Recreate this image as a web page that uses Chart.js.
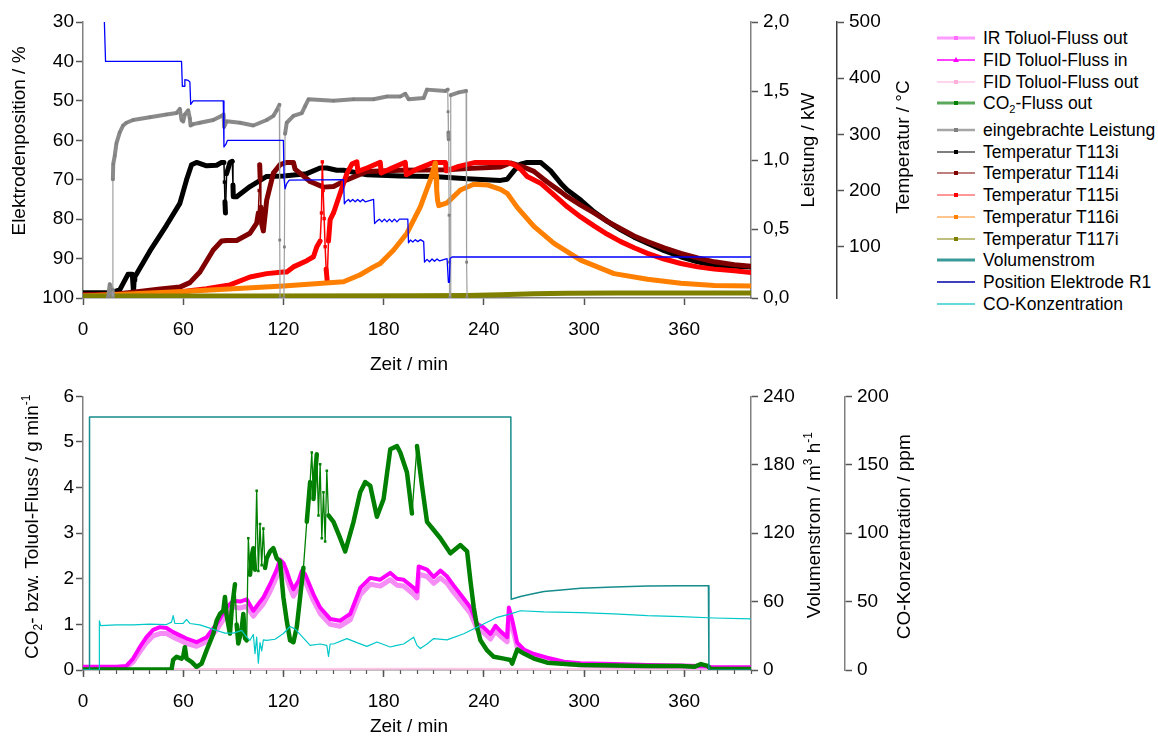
<!DOCTYPE html>
<html lang="de">
<head>
<meta charset="utf-8">
<title>Chart</title>
<script src="https://cdn.jsdelivr.net/npm/chart.js@4.4.1/dist/chart.umd.min.js"></script>
<style>
html,body{margin:0;padding:0;background:#fff;}
body{width:1158px;height:740px;position:relative;overflow:hidden;font-family:"Liberation Sans",Arial,Helvetica,sans-serif;}
canvas{position:absolute;left:0;}
#c1{top:0;}
#c2{top:380px;}
.lg{position:absolute;left:936px;height:20px;width:220px;line-height:20px;font-size:17.5px;color:#000;white-space:nowrap;}
.lg svg{position:absolute;left:0;top:5px;}
.lg span{position:absolute;left:47px;top:0;}
.lg sub{font-size:11px;vertical-align:-4px;line-height:0;}
</style>
</head>
<body>
<canvas id="c1" width="920" height="380"></canvas>
<canvas id="c2" width="920" height="360"></canvas>
<div id="legend"></div>
<script>
// ---------------- tick labels ----------------
const xTicks = [0, 60, 120, 180, 240, 300, 360];
const xMinorTicks = [0,10,20,30,40,50,60,70,80,90,100,110,120,130,140,150,160,170,180,190,200,210,220,230,240,250,260,270,280,290,300,310,320,330,340,350,360,370,380,390,400];
const ticksElektrode = [30, 40, 50, 60, 70, 80, 90, 100];
const ticksLeistung = [0, 0.5, 1.0, 1.5, 2.0];
const ticksTemp = [100, 200, 300, 400, 500];
const ticksFluss = [0, 1, 2, 3, 4, 5, 6];
const ticksVolumen = [0, 60, 120, 180, 240];
const ticksCO = [0, 50, 100, 150, 200];

// ---------------- top chart: temperatures (°C) ----------------
const tT113 = [0,17,22,27,29.5,30,30.2,30.6,31,40,50,58,62,65,68,74,80,83,84.4,84.7,85,85.3,86,88,89.4,89.8,90,92,100,110,120,134,142,146,152,156,170,190,210,230,250,254,258,262,266,274,280,286,290,298,306,314,322,330,338,348,358,368,378,390,400];
const vT113 = [18,18,23,51,51,30,17,40,46,92,138,177,219,246,250,244,245,250,250,215,180,160,230,250,252,210,189,189,207,225,226,230,240,240,236,236,228,226,225,221,218,220,235,247,250,250,235,213,201,183,162,145,130,117,106,93,82,73,67,65,64];

const tT114 = [0,17,30,45,58,64,70,78,83,86,92,100,104,105,105.5,105.8,106.1,106.5,107,108,110,114,118,122,126,127,136,144,150,158,170,190,218,230,250,256,262,270,278,286,290,298,306,314,322,330,338,348,358,368,378,390,400];
const vT114 = [15,15,19,24,28,36,55,94,110,111,111,124,142,160,200,246,220,170,140,128,183,231,246,250,250,238,216,206,207,219,234,236,237,239,242,249,244,234,215,198,189,174,160,145,132,119,109,98,88,80,73,68,65];

const tT115 = [0,40,60,74,84,88,100,110,120,122,126,134,138,140,142,142.8,143.3,143.8,144.4,145,145.6,146.2,147,148,150,154,158,161,164,164.6,170,178,178.6,185,193,193.6,200,210,217,217.6,225,235,254,258,262,266,274,282,290,298,306,314,322,330,338,348,358,368,378,390,400];
const vT115 = [13,15,20,25,30,32,46,52,55,55,64,75,82,100,110,160,251,200,150,100,60,40,110,148,160,195,230,247,251,234,240,250,231,240,250,228,238,250,250,235,243,250,250,246,238,225,213,192,171,153,137,122,109,98,88,78,70,64,60,57,54];

const tT116 = [0,60,120,156,166,174,178,186,194,202,208,211,211.4,211.8,212.3,213,218,226,234,242,250,254,260,270,282,298,318,338,358,378,400];
const vT116 = [12,20,30,37.5,50,64,70,94,124,171,219,249,225,200,183,173,178,201,211,210,202,195,170,136,106,76,52,42,35,31,30];

const tT117 = [0,100,200,230,250,270,290,320,360,400];
const vT117 = [12,12,12.5,13,14.5,16,17,17.5,17.5,17.5];

// eingebrachte Leistung (kW)
const tPow = [15,16,17.5,17.8,17.9,18.1,19,20,22,24,26,30,40,50,56,58,59,60,61,63,64,64.4,66,70,78,83,84.2,84.5,86,94,102,110,114,116,117.6,117.8,118,120.3,120.6,121,122,126,131,133,135,150,162,174,182,190,193,195,204,206,217,218.4,218.6,218.8,219,219.2,219.4,219.6,219.8,220.2,225,229.4,229.7,230];
const vPow = [0,0.1,0.06,0,0.86,0.97,1.03,1.12,1.2,1.25,1.27,1.29,1.31,1.33,1.34,1.37,1.29,1.28,1.33,1.36,1.30,1.25,1.26,1.27,1.29,1.32,1.33,1.24,1.28,1.27,1.25,1.29,1.32,1.36,1.40,0.42,0,0,0.37,1.19,1.27,1.32,1.34,1.39,1.44,1.43,1.44,1.44,1.46,1.46,1.48,1.44,1.45,1.51,1.50,1.51,1.35,1.2,1.15,0.6,0.26,0,0,1.47,1.49,1.50,0.26,0];

// Position Elektrode R1 (%)
const tPos = [12.8,13.5,59,59.5,60.5,61,63,64,64.5,66,84,84.4,85.6,86.5,120,120.4,121,122,123.5,156,156.5,157.5,159,160,161.5,163,164.5,166,167.5,169,174,174.6,176,177.5,179,180.5,182,183.5,185,186.5,188,189.5,194.5,194.9,196,197.5,199,200.5,202,204,204.5,206,207.5,209,210.5,212,213.5,218,218.8,219.4,219.8,221,400];
const vPos = [30,40,40,46.3,46.3,44.6,44.8,45.2,50.9,50,50,61.7,61,60,60,69.7,72.3,71,70.1,70,76.1,75.5,75,75.6,75,75.6,75,75.6,75,75.6,75,81.1,80.5,80,80.7,80,80.7,80,80.7,80,80.7,80,80,86,85.3,85.8,85.2,85.7,85.2,85.7,90.9,90.2,90.8,90.1,90.7,90.1,90.6,90,96,96,90,89.6,89.6];

// ---------------- bottom chart ----------------
// Toluol flows (g/min)
const tFlux = [0,10,20,26,30,34,38,42,46,50,54,58,62,68,74,80,86,90,94,98,102,105,108,112,116,118,120,122,124,126,129,131,133,138,142,148,154,160,166,172,178,184,188,192,198,200,201,206,210,214,218,222,226,232,236,240,244,247,250,254,255,257,260,264,270,278,288,298,318,338,358,374,376,400];
const vFIDin = [0.07,0.07,0.07,0.09,0.25,0.5,0.72,0.88,0.94,0.92,0.83,0.76,0.69,0.61,0.72,1.01,1.37,1.52,1.5,1.55,1.3,1.45,1.59,1.88,2.2,2.42,2.35,2.17,1.95,1.77,1.95,2.17,2.1,1.66,1.37,1.12,1.08,1.23,1.8,2.02,1.98,2.13,2.0,1.98,1.8,1.72,2.27,2.2,2.04,2.18,2.05,1.85,1.66,1.37,1.01,0.93,0.79,0.97,0.85,0.72,1.37,1.1,0.6,0.45,0.35,0.27,0.18,0.15,0.13,0.11,0.1,0.08,0.06,0.06];
const vIRout = [0.05,0.05,0.05,0.06,0.18,0.4,0.6,0.75,0.8,0.8,0.72,0.65,0.58,0.52,0.62,0.88,1.22,1.38,1.36,1.4,1.18,1.32,1.45,1.72,2.05,2.25,2.2,2.02,1.8,1.62,1.8,2.0,1.95,1.52,1.24,1.0,0.96,1.1,1.65,1.88,1.84,1.98,1.86,1.84,1.66,1.58,2.1,2.05,1.9,2.02,1.9,1.7,1.52,1.24,0.9,0.82,0.68,0.85,0.74,0.62,1.2,0.95,0.5,0.38,0.28,0.2,0.14,0.11,0.09,0.08,0.07,0.06,0.04,0.04];
const tFIDout = [0,100,200,300,400];
const vFIDout = [0.02,0.02,0.03,0.02,0.02];

// CO2-Fluss out (g/min)
const tCO2 = [0,53,54,56,59,60,61,62,65,68,71,74,78,80,82,84,85,86,88,89,91,92,93,95,96,97,98,99,100,101,102,103,104,105,106,107,108,109,110,112,114,116,118,120,122,124,126,128,130,132,134,136,137,138,139,140,141,142,143,144,145,146,147,150,154,157,162,166,169,172,176,180,184,188,190,194,197,200,203,206,210,214,220,226,230,232,234,236,238,242,246,252,256,257,260,264,270,278,298,318,338,358,366,370,374,376,400];
const vCO2 = [0.01,0.01,0.22,0.29,0.25,0.3,0.5,0.25,0.18,0.07,0.14,0.43,0.79,1.08,1.23,1.3,1.6,1.2,0.8,1.3,1.88,1.0,0.58,0.9,1.23,0.7,0.65,2.89,2.09,2.5,2.67,2.2,3.93,2.17,3.2,2.3,3.1,2.24,2.45,2.6,2.67,2.45,2.38,1.59,1.08,0.65,0.61,0.94,1.59,2.24,3.25,4.12,4.77,3.75,4.3,4.73,3.39,4.51,2.89,3.9,2.82,4.37,3.39,3.25,2.89,2.6,3.25,3.9,4.12,4.04,3.36,3.75,4.84,4.91,4.77,4.33,3.43,4.91,4.04,3.25,3.07,2.89,2.56,2.74,2.6,1.95,1.37,0.94,0.65,0.43,0.29,0.25,0.22,0.14,0.45,0.36,0.25,0.16,0.11,0.1,0.09,0.09,0.07,0.13,0.09,0.02,0.02];

// Volumenstrom (m3/h)
const tVol = [0,3.8,3.9,256.2,256.4,262,268,276,288,298,318,338,358,374.5,374.8,400];
const vVol = [0,0,222,222,62,64.5,66.5,68.8,70.5,71.7,72.8,73.7,73.9,74,0,0];

// CO-Konzentration (ppm)
const tCO = [0,9.7,9.8,10.5,20,30,40,50,53,54,55,60,62,64,70,75,80,85,90,95,98,100,102,103,104,105,106,107,108,110,115,120,124,127,130,136,142,146,147,148,150,158,164,170,176,184,188,192,198,200,202,206,210,218,228,238,248,256,262,276,298,318,338,358,378,400];
const vCO = [0,0,36,32.5,33,33,33.5,33.2,35,39.7,34,34,37,34,33,31,28.9,27,27,29,24,21.7,26,12,24,5,20,14,22,21.7,22.5,26.7,31.8,30,26,18,19,18,10,19,19,22.9,20,17.3,20.5,16.8,18,19,24,18,15.7,19,23,22,26.5,32.5,38.5,41,43.3,42.5,42,41,39.7,39,38,37.3];

// ---------------- helpers ----------------
const FF = '"Liberation Sans", Arial, Helvetica, sans-serif';
Chart.defaults.font.family = FF;
Chart.defaults.font.size = 19;
Chart.defaults.color = '#000';

const xy = (ts, vs) => ts.map((t, i) => ({x: t, y: vs[i]}));
const steep = c => Math.abs(c.p1.y - c.p0.y) > 10 * Math.abs(c.p1.x - c.p0.x) + 12;

function lineDS(label, ts, vs, axis, color, w, order, extra) {
  return Object.assign({
    label: label, data: xy(ts, vs), yAxisID: axis, order: order,
    borderColor: color, backgroundColor: color, borderWidth: w,
    pointRadius: 0, pointStyle: 'rect', pointBorderWidth: 0, pointBackgroundColor: color,
    tension: 0, fill: false, borderJoinStyle: 'round', borderCapStyle: 'round'
  }, extra || {});
}
function tempDS(label, ts, vs, color, order) {
  return lineDS(label, ts, vs, 'yT', color, 5, order, {
    pointRadius: 2.4,
    segment: { borderWidth: c => steep(c) ? 1.5 : 5 }
  });
}

function yAxis(pos, min, max, ticks, fmt, width, weight, borderColor, extra) {
  return Object.assign({
    type: 'linear', position: pos, min: min, max: max, weight: weight,
    afterBuildTicks: s => { s.ticks = ticks.map(v => ({value: v})); },
    afterFit: s => { s.width = width; },
    ticks: { padding: pos === 'left' ? 2 : 5, callback: fmt, color: '#000', font: {size: 19} },
    grid: { display: true, drawOnChartArea: false, drawTicks: true, tickLength: 7, tickColor: '#555', tickWidth: 1.5 },
    border: { display: true, color: borderColor || '#808080', width: 1.5 },
    title: { display: false }
  }, extra || {});
}
function xAxis(height) {
  return {
    type: 'linear', position: 'bottom', min: 0, max: 400, weight: 1,
    afterBuildTicks: s => { s.ticks = xTicks.map(v => ({value: v})); },
    afterFit: s => { s.height = height; },
    ticks: { padding: 13.5, callback: v => String(v), color: '#000', font: {size: 19} },
    grid: { display: true, drawOnChartArea: false, drawTicks: true, tickLength: 7, tickColor: '#555', tickWidth: 1.5 },
    border: { display: true, color: '#808080', width: 1.5 },
    title: { display: false }
  };
}

function drawRich(ctx, parts, x, y, rot) {
  ctx.save();
  ctx.translate(x, y);
  if (rot) ctx.rotate(-Math.PI / 2);
  ctx.textBaseline = 'middle';
  ctx.textAlign = 'left';
  ctx.fillStyle = '#000';
  const big = '19px ' + FF, small = '12px ' + FF;
  let total = 0;
  parts.forEach(p => { ctx.font = p[1] ? small : big; total += ctx.measureText(p[0]).width; });
  let cx = -total / 2;
  parts.forEach(p => {
    ctx.font = p[1] ? small : big;
    const off = p[1] === 'sup' ? -6 : (p[1] === 'sub' ? 6 : 0);
    ctx.fillText(p[0], cx, off);
    cx += ctx.measureText(p[0]).width;
  });
  ctx.restore();
}
function titlesPlugin(items) {
  return {
    id: 'axisTitles',
    afterDraw(chart) {
      const ctx = chart.ctx;
      items.forEach(it => {
        const s = chart.scales[it.scale];
        if (it.rot) drawRich(ctx, it.parts, s.left + it.dx, (s.top + s.bottom) / 2 + it.dy, true);
        else drawRich(ctx, it.parts, (s.left + s.right) / 2 + it.dx, s.top + it.dy, false);
      });
    }
  };
}

const comma1 = v => v.toFixed(1).replace('.', ',');

// ---------------- top chart ----------------
new Chart(document.getElementById('c1'), {
  type: 'line',
  data: {
    datasets: [
      lineDS('Position Elektrode R1', tPos, vPos, 'yE', '#0000ff', 1.3, 0),
      lineDS('eingebrachte Leistung', tPow, vPow, 'yP', '#8a8a8a', 4, 1, {
        pointRadius: 2, pointBackgroundColor: '#808080',
        segment: {
          borderWidth: c => (steep(c) || (vPow[c.p0DataIndex] === 0 && vPow[c.p1DataIndex] === 0)) ? 1.2 : 4,
          borderColor: c => steep(c) ? '#a0a0a0' : '#8a8a8a'
        }
      }),
      tempDS('Temperatur T117i', tT117, vT117, '#808000', 2),
      tempDS('Temperatur T116i', tT116, vT116, '#ff8000', 3),
      tempDS('Temperatur T115i', tT115, vT115, '#ff0000', 4),
      tempDS('Temperatur T114i', tT114, vT114, '#800000', 5),
      tempDS('Temperatur T113i', tT113, vT113, '#000000', 6)
    ]
  },
  options: {
    responsive: false, maintainAspectRatio: false, animation: false, devicePixelRatio: 1, events: [],
    layout: { padding: { top: 22, left: 0, right: 0, bottom: 0 } },
    plugins: { legend: { display: false }, tooltip: { enabled: false } },
    scales: {
      x: xAxis(82),
      yE: yAxis('left', 30, 100, ticksElektrode, v => String(v), 83, 0, '#808080', { reverse: true }),
      yP: yAxis('right', 0, 2, ticksLeistung, comma1, 86, 0, '#808080'),
      yT: yAxis('right', 8.6, 500, ticksTemp, v => String(v), 83, 1, '#404040')
    }
  },
  plugins: [titlesPlugin([
    { scale: 'yE', rot: true, dx: 19.5, dy: -19, parts: [['Elektrodenposition / %']] },
    { scale: 'yP', rot: true, dx: 58, dy: -10, parts: [['Leistung / kW']] },
    { scale: 'yT', rot: true, dx: 67, dy: -13, parts: [['Temperatur / °C']] },
    { scale: 'x', rot: false, dx: -8, dy: 66.5, parts: [['Zeit / min']] }
  ])]
});

// ---------------- bottom chart ----------------
new Chart(document.getElementById('c2'), {
  type: 'line',
  data: {
    datasets: [
      lineDS('CO-Konzentration', tCO, vCO, 'yC', '#00c8c8', 1.2, 0),
      lineDS('Volumenstrom', tVol, vVol, 'yV', '#168c8c', 1.5, 1),
      lineDS('CO2-Fluss out', tCO2, vCO2, 'yF', '#008000', 4.5, 2, {
        pointRadius: 1.8,
        segment: { borderWidth: c => steep(c) ? 1.3 : 4.5 }
      }),
      lineDS('FID Toluol-Fluss in', tFlux, vFIDin, 'yF', '#ff00ff', 4, 3),
      lineDS('IR Toluol-Fluss out', tFlux, vIRout, 'yF', '#f68cf6', 5, 4),
      lineDS('FID Toluol-Fluss out', tFIDout, vFIDout, 'yF', '#ffc6e6', 2, 5)
    ]
  },
  options: {
    responsive: false, maintainAspectRatio: false, animation: false, devicePixelRatio: 1, events: [],
    layout: { padding: { top: 13, left: 0, right: 0, bottom: 0 } },
    plugins: { legend: { display: false }, tooltip: { enabled: false } },
    scales: {
      x: xAxis(70),
      xMinor: {
        type: 'linear', position: 'bottom', min: 0, max: 400, weight: 0,
        afterBuildTicks: s => { s.ticks = xMinorTicks.map(v => ({value: v})); },
        afterFit: s => { s.height = 0; },
        ticks: { display: false },
        grid: { display: true, drawOnChartArea: false, drawTicks: true, tickLength: 4, tickColor: '#555', tickWidth: 1.2 },
        border: { display: false }
      },
      yF: yAxis('left', 0, 6, ticksFluss, v => String(v), 83, 0, '#808080'),
      yV: yAxis('right', 0, 240, ticksVolumen, v => String(v), 94, 0, '#808080'),
      yC: yAxis('right', 0, 200, ticksCO, v => String(v), 75, 1, '#808080')
    }
  },
  plugins: [titlesPlugin([
    { scale: 'yF', rot: true, dx: 33, dy: -6.5, parts: [['CO'], ['2', 'sub'], ['- bzw. Toluol-Fluss / g min'], ['-1', 'sup']] },
    { scale: 'yV', rot: true, dx: 64, dy: -8, parts: [['Volumenstrom / m'], ['3', 'sup'], [' h'], ['-1', 'sup']] },
    { scale: 'yC', rot: true, dx: 59.5, dy: 3.5, parts: [['CO-Konzentration / ppm']] },
    { scale: 'x', rot: false, dx: -8, dy: 57, parts: [['Zeit / min']] }
  ])]
});

// ---------------- legend (HTML) ----------------
const legendItems = [
  { label: 'IR Toluol-Fluss out', line: '#ff9cff', lw: 3, mk: 'rect', mc: '#ff6cff' },
  { label: 'FID Toluol-Fluss in', line: '#ff00ff', lw: 1.5, mk: 'tri', mc: '#ff00ff' },
  { label: 'FID Toluol-Fluss out', line: '#ffc6e6', lw: 1.5, mk: 'rect', mc: '#ffb0d8' },
  { label: 'CO<sub>2</sub>-Fluss out', line: '#5aa85a', lw: 3, mk: 'rect', mc: '#008000' },
  { label: 'eingebrachte Leistung', line: '#a6a6a6', lw: 2.5, mk: 'rect', mc: '#808080' },
  { label: 'Temperatur T113i', line: '#000000', lw: 1.2, mk: 'rect', mc: '#000000' },
  { label: 'Temperatur T114i', line: '#800000', lw: 1.2, mk: 'rect', mc: '#800000' },
  { label: 'Temperatur T115i', line: '#ff3030', lw: 1.2, mk: 'rect', mc: '#ff0000' },
  { label: 'Temperatur T116i', line: '#ff8c1a', lw: 1.2, mk: 'rect', mc: '#ff8000' },
  { label: 'Temperatur T117i', line: '#808000', lw: 1.2, mk: 'rect', mc: '#808000' },
  { label: 'Volumenstrom', line: '#3a9a9a', lw: 3, mk: null },
  { label: 'Position Elektrode R1', line: '#0000a8', lw: 1.5, mk: null },
  { label: 'CO-Konzentration', line: '#33cccc', lw: 1.5, mk: null }
];
const lg = document.getElementById('legend');
legendItems.forEach((it, i) => {
  const cy = i < 4 ? 38.3 + 21.7 * i : 130 + 21.7 * (i - 4);
  const d = document.createElement('div');
  d.className = 'lg';
  d.style.top = (cy - 10) + 'px';
  let mk = '';
  if (it.mk === 'rect') mk = `<rect x="18" y="3" width="4" height="4" fill="${it.mc}"/>`;
  if (it.mk === 'tri') mk = `<polygon points="20,2 23,7 17,7" fill="${it.mc}"/>`;
  d.innerHTML = `<svg width="40" height="10"><line x1="1" y1="5" x2="39" y2="5" stroke="${it.line}" stroke-width="${it.lw}"/>${mk}</svg><span>${it.label}</span>`;
  lg.appendChild(d);
});
</script>
</body>
</html>
